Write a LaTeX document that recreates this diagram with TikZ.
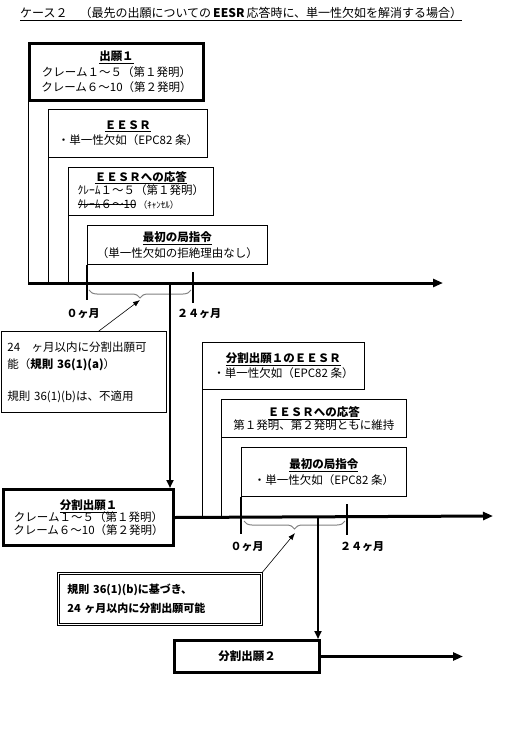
\documentclass[tikz,border=0pt]{standalone}
\usepackage{fontspec}
\setmainfont{Noto Sans CJK JP}
\usetikzlibrary{arrows.meta,decorations.pathreplacing}
\newsavebox\strkbox
\newcommand\strk[1]{\sbox\strkbox{#1}\rlap{\usebox\strkbox}\rule[0.3em]{\wd\strkbox}{0.7pt}}

\begin{document}
\begin{tikzpicture}[
  x=1pt, y=-1pt,
  font=\fontsize{11.5}{15.5}\selectfont,
  app/.style ={draw, line width=3pt, anchor=north west, align=center, inner sep=0pt},
  info/.style={draw, line width=0.8pt, anchor=north west, align=center, inner sep=0pt},
  note/.style={draw, line width=0.8pt, anchor=north west, align=left, inner sep=0pt},
  tline/.style={line width=3pt, -{Triangle[length=10pt,width=8pt]}},
  darr/.style ={line width=2.5pt, -{Triangle[length=8pt,width=7pt]}},
  tick/.style ={line width=2.5pt},
  brc/.style  ={draw=gray, line width=1pt, decorate,
                decoration={brace, mirror, amplitude=8pt}},
  mon/.style  ={font=\fontsize{11}{12}\selectfont\bfseries},
  every edge/.style={draw, line width=0.6pt, -{Latex[length=7pt]}}
]
\useasboundingbox (0,0) rectangle (515,741);

\node[anchor=base west, inner sep=0pt, font=\fontsize{12}{14}\selectfont] (title) at (20,18)
     {\underline{ケース２　（最先の出願についての\,\textbf{EESR}\,応答時に、単一性欠如を解消する場合）}};

\node[app, minimum width=174pt, minimum height=57pt] (app1) at (28,42)
     {\textbf{\underline{出願１}}\\クレーム１～５（第１発明）\\クレーム６～10（第２発明）};
\node[info, minimum width=159pt, minimum height=48pt] (eesr1) at (48,109)
     {\textbf{\underline{ＥＥＳＲ}}\\・単一性欠如（EPC82 条）};
\node[info, minimum width=145pt, minimum height=48pt] (resp1) at (68,167)
     {\begin{tabular}{@{}l@{}}
      \multicolumn{1}{@{}c@{}}{\textbf{\underline{ＥＥＳＲへの応答}}}\\[-2pt]
      ｸﾚｰﾑ１～５（第１発明）\\[-2pt]
      {\strk{ｸﾚｰﾑ６～10}\,{\fontsize{9}{12}\selectfont（ｷｬﾝｾﾙ）}}
      \end{tabular}};
\node[info, minimum width=180pt, minimum height=39pt] (oa1) at (87,225)
     {\textbf{\underline{最初の局指令}}\\（単一性欠如の拒絶理由なし）};

\coordinate (t1a) at (28,283);
\coordinate (t1b) at (443,283);
\draw[tline] (t1a) -- (t1b);
\draw[line width=0.8pt] (app1.south west) -- (app1.south west |- t1a);
\draw[line width=0.8pt] (eesr1.south west) -- (eesr1.south west |- t1a);
\draw[line width=0.8pt] (resp1.south west) -- (resp1.south west |- t1a);

\coordinate (m0a) at (87,300);
\coordinate (m24a) at (193,272);
\coordinate (m24b) at (193,303);
\draw[tick] (oa1.south west) -- (m0a);
\draw[tick] (m24a) -- (m24b);
\draw[brc] (89,290) -- (191,290);
\coordinate (b1) at (140,300);
\node[mon] (l0a) at (83,314) {０ヶ月};
\node[mon] (l24a) at (199,314) {２４ヶ月};

\node[note, text width=153pt, minimum height=81pt, inner xsep=6pt,
      font=\fontsize{11.5}{17}\selectfont] (note1) at (1,331)
     {24　ヶ月以内に分割出願可\\能（\textbf{規則 36(1)(a)}）\\[15pt]規則 36(1)(b)は、不適用};
\draw (note1.north) ++(15,0) coordinate (n1) edge (b1);

\node[app, minimum width=170pt, minimum height=56pt] (div1) at (2,488)
     {\textbf{\underline{分割出願１}}\\[-3pt]クレーム１～５（第１発明）\\[-3pt]クレーム６～10（第２発明）};
\coordinate (s1) at (170,283);
\draw[darr] (s1) -- (s1 |- div1.north);

\node[info, minimum width=162pt, minimum height=47pt] (eesr2) at (202,342)
     {\textbf{\underline{分割出願１のＥＥＳＲ}}\\・単一性欠如（EPC82 条）};
\node[info, minimum width=185pt, minimum height=38pt] (resp2) at (221,399)
     {\textbf{\underline{ＥＥＳＲへの応答}}\\[-3pt]第１発明、第２発明ともに維持};
\node[info, minimum width=165pt, minimum height=49pt] (oa2) at (241,447)
     {\textbf{\underline{最初の局指令}}\\・単一性欠如（EPC82 条）};

\coordinate (t2b) at (493,516);
\draw[tline] (div1.east) -- (t2b);
\draw[line width=0.8pt] (eesr2.south west) -- (eesr2.south west |- t2b);
\draw[line width=0.8pt] (resp2.south west) -- (resp2.south west |- t2b);

\coordinate (m0b) at (241,534);
\coordinate (m24c) at (347,504);
\coordinate (m24d) at (347,535);
\draw[tick] (oa2.south west) -- (m0b);
\draw[tick] (m24c) -- (m24d);
\draw[brc] (244,521) -- (345,521);
\coordinate (b2) at (295,533);
\node[mon] (l0b) at (247,547) {０ヶ月};
\node[mon] (l24b) at (362,547) {２４ヶ月};

\node[note, double, double distance=1pt, text width=185pt, minimum height=51pt,
      inner xsep=9pt, font=\fontsize{11}{19}\selectfont\bfseries] (note2) at (58,573)
     {規則 36(1)(b)に基づき、\\24 ヶ月以内に分割出願可能};
\draw (note2.north east) edge (b2);

\node[app, minimum width=145pt, minimum height=32pt] (div2) at (173,639)
     {\textbf{分割出願２}};
\coordinate (s2) at (318,516);
\coordinate (t3b) at (463,652);
\draw[darr] (s2) -- (s2 |- div2.north);
\draw[tline] (div2.east) -- (t3b |- div2.east);
\end{tikzpicture}
\end{document}
